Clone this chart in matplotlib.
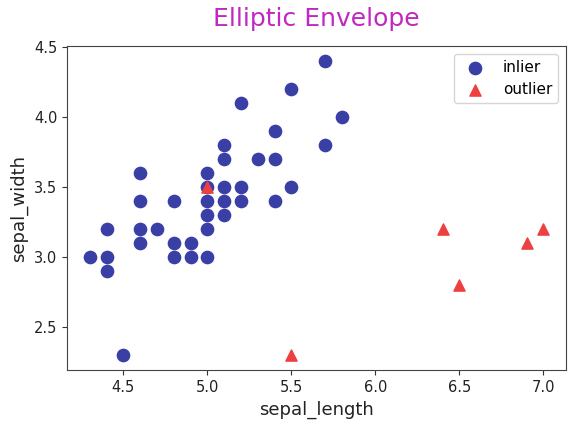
import matplotlib
matplotlib.use("Agg")
import matplotlib.pyplot as plt

# inlier points (sepal_length, sepal_width)
inlier_x = [4.3, 4.4, 4.4, 4.4, 4.5, 4.6, 4.6, 4.6, 4.6, 4.7,
            4.8, 4.8, 4.8, 4.9, 4.9, 5.0, 5.0, 5.0, 5.0, 5.0, 5.0,
            5.1, 5.1, 5.1, 5.1, 5.1, 5.2, 5.2, 5.2, 5.3,
            5.4, 5.4, 5.4, 5.5, 5.5, 5.7, 5.7, 5.8]
inlier_y = [3.0, 3.2, 3.0, 2.9, 2.3, 3.6, 3.4, 3.2, 3.1, 3.2,
            3.4, 3.1, 3.0, 3.1, 3.0, 3.6, 3.5, 3.4, 3.3, 3.2, 3.0,
            3.8, 3.7, 3.5, 3.4, 3.3, 4.1, 3.5, 3.4, 3.7,
            3.9, 3.7, 3.4, 4.2, 3.5, 4.4, 3.8, 4.0]

# outlier points
outlier_x = [5.0, 5.5, 6.4, 6.5, 6.9, 7.0]
outlier_y = [3.5, 2.3, 3.2, 2.8, 3.1, 3.2]

fig = plt.figure(figsize=(5.73, 4.25), dpi=100)
ax = fig.add_axes([0.117, 0.129, 0.871, 0.763])

ax.scatter(inlier_x, inlier_y, s=78, marker='o', color='#3a3fa6', label='inlier')
ax.scatter(outlier_x, outlier_y, s=65, marker='^', color='#ee4040', label='outlier')

ax.set_title('Elliptic Envelope', color='#c028c0', fontsize=18, pad=14)
ax.set_xlabel('sepal_length', fontsize=13, color='#222222')
ax.set_ylabel('sepal_width', fontsize=13, color='#222222')
ax.set_xticks([4.5, 5.0, 5.5, 6.0, 6.5, 7.0])
ax.set_yticks([2.5, 3.0, 3.5, 4.0, 4.5])
ax.tick_params(labelsize=10.5, colors='#333333', labelcolor='#222222')
for sp in ax.spines.values():
    sp.set_color('#444444')
ax.legend(loc='upper right', fontsize=11)

fig.savefig('out.png', dpi=100)
